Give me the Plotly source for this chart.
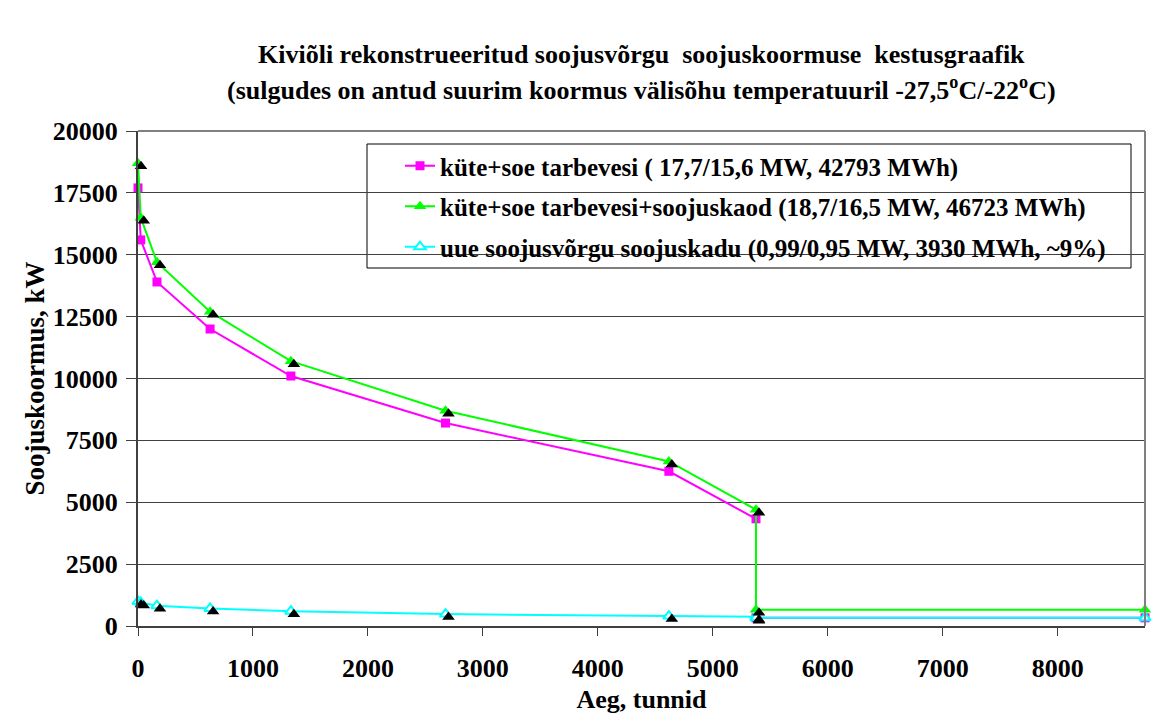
import plotly.graph_objects as go

# Duration curve data: hours of the year vs. heat load (kW)
hours = [0, 24, 165, 627, 1330, 2675, 4618, 5376, 5376, 8760]
load_heat_dhw = [17700, 15600, 13900, 12000, 10100, 8200, 6250, 4330, 330, 330]
load_total = [18700, 16500, 14700, 12700, 10700, 8700, 6650, 4700, 660, 660]
load_losses = [990, 950, 820, 710, 600, 480, 400, 370, 330, 330]

names = [
    "küte+soe tarbevesi ( 17,7/15,6 MW, 42793 MWh)",
    "küte+soe tarbevesi+soojuskaod (18,7/16,5 MW, 46723 MWh)",
    "uue soojusvõrgu soojuskadu (0,99/0,95 MW, 3930 MWh, ~9%)",
]

x_ticks = [0, 1000, 2000, 3000, 4000, 5000, 6000, 7000, 8000]
y_ticks = [0, 2500, 5000, 7500, 10000, 12500, 15000, 17500, 20000]

FONT = "Times New Roman"
W, H = 1153, 717
L, R, T, B = 138, 8, 131, 91
PW, PH = W - L - R, H - T - B
X_MAX, Y_MAX = 8760, 20000

# shadow offset (px) for the triangle markers
dx_px, dy_px = 3, 3
dx = dx_px / PW * X_MAX
dy = dy_px / PH * Y_MAX

fig = go.Figure()

# black drop shadows behind triangle markers
for vals in (load_total, load_losses):
    fig.add_trace(go.Scatter(
        x=hours, y=vals, mode="markers", xaxis="x2", yaxis="y2",
        marker=dict(symbol="triangle-up", size=11, color="black"),
        showlegend=False, hoverinfo="skip", cliponaxis=False,
    ))

fig.add_trace(go.Scatter(
    x=hours, y=load_heat_dhw, mode="lines+markers", name="<b>" + names[0] + "</b>",
    line=dict(color="#FF00FF", width=2),
    marker=dict(symbol="square", size=9, color="#FF00FF"),
    cliponaxis=False, legendgroup="a",
))
fig.add_trace(go.Scatter(
    x=hours, y=load_total, mode="lines+markers", name="<b>" + names[1] + "</b>",
    line=dict(color="#00FF00", width=2),
    marker=dict(symbol="triangle-up", size=11, color="#00FF00"),
    cliponaxis=False, legendgroup="b",
))
fig.add_trace(go.Scatter(
    x=hours, y=load_losses, mode="lines+markers", name="<b>" + names[2] + "</b>",
    line=dict(color="#00FFFF", width=2),
    marker=dict(symbol="triangle-up", size=10, color="white",
                line=dict(color="#00FFFF", width=2)),
    cliponaxis=False, legendgroup="c",
))

axis_font = dict(family=FONT, size=26, color="black")

fig.update_layout(
    width=W, height=H,
    margin=dict(l=L, r=R, t=T, b=B),
    paper_bgcolor="white", plot_bgcolor="white",
    font=dict(family=FONT, color="black"),
    xaxis=dict(
        range=[0, X_MAX], tickvals=x_ticks,
        ticktext=["<b>%d</b>" % v for v in x_ticks],
        tickfont=axis_font, ticks="outside", ticklen=8, tickcolor="#404040",
        showgrid=False, zeroline=False, showline=True, linecolor="#404040",
        linewidth=2, mirror=False, ticklabelstandoff=10,
        title=dict(text="<b>Aeg, tunnid</b>", font=dict(family=FONT, size=26),
                   standoff=8),
    ),
    yaxis=dict(
        range=[0, Y_MAX], tickvals=y_ticks,
        ticktext=["<b>%d</b>" % v for v in y_ticks],
        tickfont=axis_font, ticks="outside", ticklen=10, tickcolor="#404040",
        showgrid=True, gridcolor="#404040", gridwidth=1,
        zeroline=False, showline=True, linecolor="#404040", linewidth=2,
        ticklabelstandoff=3,
        title=dict(text="<b>Soojuskoormus, kW</b>", font=dict(family=FONT, size=27),
                   standoff=0),
    ),
    xaxis2=dict(range=[-dx, X_MAX - dx], overlaying="x", visible=False),
    yaxis2=dict(range=[dy, Y_MAX + dy], overlaying="y", visible=False),
    showlegend=True,
    legend=dict(
        x=(400 - L) / PW, y=(T + PH - 143) / PH, xanchor="left", yanchor="top",
        bgcolor="rgba(0,0,0,0)", borderwidth=0,
        font=dict(family=FONT, size=25, color="black"),
        tracegroupgap=5, itemwidth=30,
    ),
    shapes=[
        # plot frame (top and right edges)
        dict(type="line", xref="paper", yref="paper", x0=0, x1=1, y0=1, y1=1,
             line=dict(color="#808080", width=2)),
        dict(type="line", xref="paper", yref="paper", x0=1, x1=1, y0=0, y1=1,
             line=dict(color="#808080", width=2)),
        # legend frame
        dict(type="rect", xref="paper", yref="paper",
             x0=(367 - L) / PW, x1=(1131 - L) / PW,
             y0=(T + PH - 268) / PH, y1=(T + PH - 144) / PH,
             line=dict(color="black", width=1), fillcolor="white", layer="below"),
    ],
    annotations=[
        dict(text="<b>Kiviõli rekonstrueeritud soojusvõrgu\u00a0 soojuskoormuse\u00a0 kestusgraafik</b>",
             xref="paper", yref="paper", x=0.5, y=(T + PH - 54) / PH,
             xanchor="center", yanchor="middle", showarrow=False,
             font=dict(family=FONT, size=26)),
        dict(text="<b>(sulgudes on antud suurim koormus välisõhu temperatuuril -27,5<sup>o</sup>C/-22<sup>o</sup>C)</b>",
             xref="paper", yref="paper", x=0.5, y=(T + PH - 88) / PH,
             xanchor="center", yanchor="middle", showarrow=False,
             font=dict(family=FONT, size=26)),
    ],
)

fig.write_html("out.html")
